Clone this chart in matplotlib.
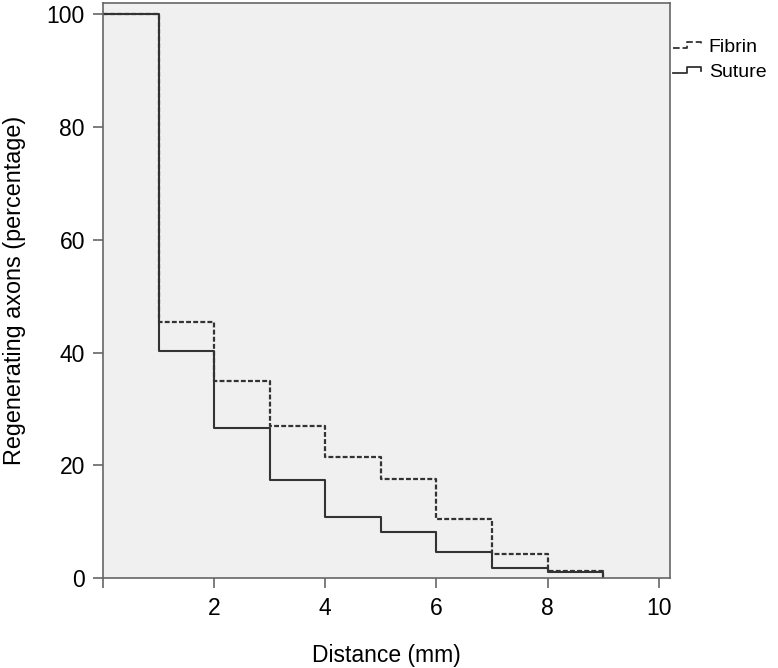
import matplotlib
matplotlib.use("Agg")
import matplotlib.pyplot as plt
from matplotlib.lines import Line2D
from matplotlib.legend_handler import HandlerBase

plt.rcParams['font.family'] = ['Liberation Sans', 'DejaVu Sans']

# distance from lesion (mm) and percentage of regenerating axons
distance = [0, 1, 2, 3, 4, 5, 6, 7, 8, 9]
fibrin = [100, 45.5, 35.0, 27.0, 21.5, 17.5, 10.5, 4.3, 1.3, 0]
suture = [100, 40.3, 26.6, 17.3, 10.9, 8.2, 4.6, 1.8, 1.0, 0]

x_ticks = [0, 2, 4, 6, 8, 10]
x_ticklabels = ['', '2', '4', '6', '8', '10']
y_ticks = [0, 20, 40, 60, 80, 100]

line_col = '#333333'
frame_col = '#666666'
dash = (0, (2.2, 1.0))


# small step-shaped legend glyph, like the SPSS survival plots
class StepHandler(HandlerBase):
    def create_artists(self, legend, orig_handle, xdescent, ydescent,
                       width, height, fontsize, trans):
        x0, y0 = -xdescent, -ydescent
        xs = [x0, x0 + 0.45 * width, x0 + 0.45 * width,
              x0 + 0.9 * width, x0 + 0.9 * width]
        ys = [y0 + 0.25 * height, y0 + 0.25 * height, y0 + 0.75 * height,
              y0 + 0.75 * height, y0 + 0.45 * height]
        ln = Line2D(xs, ys, color=orig_handle.get_color(),
                    linestyle=orig_handle.get_linestyle(),
                    lw=orig_handle.get_linewidth(), transform=trans)
        return [ln]


fig = plt.figure(figsize=(7.78, 6.68), dpi=100)
ax = fig.add_axes([0.1324, 0.1347, 0.7286, 0.8608])
ax.set_facecolor('#f0f0f0')

l1, = ax.plot(distance, fibrin, drawstyle='steps-post', color=line_col,
              lw=1.6, linestyle=dash, label='Fibrin')
l2, = ax.plot(distance, suture, drawstyle='steps-post', color=line_col,
              lw=1.5, linestyle='-', label='Suture')

ax.set_xlim(0, 10.2)
ax.set_ylim(0, 102)
ax.set_xticks(x_ticks)
ax.set_xticklabels(x_ticklabels)
ax.set_yticks(y_ticks)
ax.tick_params(axis='both', labelsize=16.5, length=7, width=1.2,
               color=frame_col, direction='out', pad=7)
ax.tick_params(axis='y', pad=6)
for s in ax.spines.values():
    s.set_color(frame_col)
    s.set_linewidth(1.2)

ax.set_xlabel('Distance (mm)', fontsize=16.5, labelpad=17)
ax.set_ylabel('Regenerating axons (percentage)', fontsize=16.8, labelpad=15)

h1 = Line2D([], [], color=line_col, lw=1.3, linestyle=(0, (1.6, 1.0)))
h2 = Line2D([], [], color=line_col, lw=1.3)
ax.legend([h1, h2], ['Fibrin', 'Suture'], loc='upper left',
          bbox_to_anchor=(1.0, 0.944), frameon=False, fontsize=14,
          handlelength=1.6, handletextpad=0.25, labelspacing=0.38,
          borderpad=0.1, borderaxespad=0.05,
          handler_map={Line2D: StepHandler()})

fig.savefig('out.png', dpi=100)
